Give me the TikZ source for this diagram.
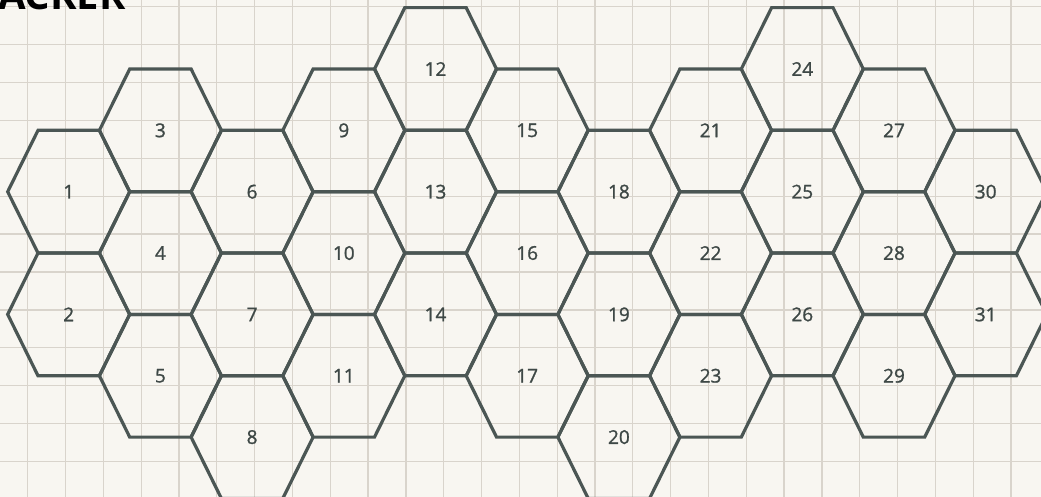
\documentclass[tikz,border=0pt]{standalone}
\usepackage{fontspec}
\setmainfont{Open Sans}
\newfontfamily\numfont[FakeBold=1.2]{Open Sans}
\definecolor{paper}{HTML}{F8F6F1}
\definecolor{gridc}{HTML}{D9D4CC}
\definecolor{hexc}{HTML}{4B5654}
\definecolor{numc}{HTML}{3E4846}
\begin{document}
\begin{tikzpicture}[x=1pt,y=-1pt,
  hexline/.style={draw=hexc,line width=3.2pt,line join=miter},
  gridline/.style={draw=gridc,line width=1.3pt},
  num/.style={text=numc,font=\numfont\fontsize{19}{19}\selectfont,inner sep=0pt}]
\useasboundingbox (0,0) rectangle (1041,497);
\clip (0,0) rectangle (1041,497);
\fill[paper] (0,0) rectangle (1041,497);
\foreach \i in {0,...,27} \draw[gridline] ({27.7+37.82*\i},0) -- ++(0,497);
\foreach \j in {0,...,13} \draw[gridline] (0,{6.7+37.9*\j}) -- ++(1041,0);
\node[font=\bfseries\fontsize{40}{40}\selectfont, anchor=base east, inner sep=0pt] (title) at (126,10) {TRACKER};
\foreach \n/\c/\m in {1/0/2,2/0/4,3/1/1,4/1/3,5/1/5,6/2/2,7/2/4,8/2/6,9/3/1,10/3/3,11/3/5,12/4/0,13/4/2,14/4/4,15/5/1,16/5/3,17/5/5,18/6/2,19/6/4,20/6/6,21/7/1,22/7/3,23/7/5,24/8/0,25/8/2,26/8/4,27/9/1,28/9/3,29/9/5,30/10/2,31/10/4} {
  \coordinate (c\n) at ({68.7+91.7*\c},{69+61.35*\m});
  \draw[hexline] (c\n) ++(-61,0) -- ++(30.3,-61.35) -- ++(61.4,0) -- ++(30.3,61.35) -- ++(-30.3,61.35) -- ++(-61.4,0) -- cycle;
  \node[num] (h\n) at (c\n) {\n};
}
\end{tikzpicture}
\end{document}
